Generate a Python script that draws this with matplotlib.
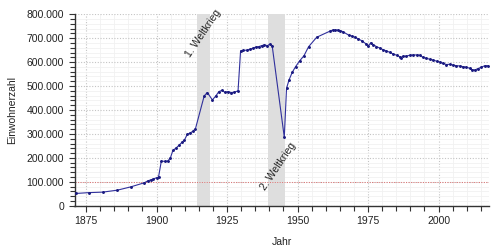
import matplotlib
matplotlib.use("Agg")
import matplotlib.pyplot as plt
from matplotlib.ticker import MultipleLocator, FuncFormatter

plt.rcParams['font.family'] = ['Liberation Sans', 'DejaVu Sans']

years = [1871.6, 1876.0, 1880.9, 1886.1, 1890.8, 1895.7, 1896.9, 1897.9, 1898.9, 1900.0,
         1900.7, 1901.7, 1902.9, 1904.0, 1904.9, 1905.8, 1907.0, 1907.9, 1909.0, 1909.9,
         1910.9, 1912.0, 1912.9, 1913.8, 1916.9, 1918.0, 1919.8, 1921.1, 1922.1, 1923.2,
         1924.2, 1925.4, 1926.4, 1927.5, 1928.9, 1929.8, 1930.8, 1931.9, 1933.2, 1934.1,
         1935.2, 1936.3, 1937.3, 1938.2, 1939.3, 1940.2, 1941.0, 1945.3, 1946.1, 1947.0,
         1948.1, 1949.3, 1950.8, 1952.3, 1953.9, 1956.8, 1961.6, 1962.5, 1963.3, 1964.2,
         1965.1, 1966.1, 1968.1, 1969.3, 1970.5, 1971.6, 1972.8, 1974.2, 1975.1, 1976.0,
         1976.8, 1978.0, 1979.1, 1980.3, 1981.5, 1982.7, 1983.9, 1985.1, 1986.2, 1986.8,
         1987.4, 1988.6, 1989.8, 1991.0, 1992.2, 1993.3, 1994.5, 1995.7, 1996.9, 1998.0,
         1999.3, 2000.4, 2001.6, 2002.8, 2004.0, 2005.1, 2006.3, 2007.5, 2008.7, 2009.9,
         2011.1, 2011.7, 2012.8, 2014.0, 2015.2, 2016.4, 2017.6]
population = [51500, 54800, 56900, 65100, 78700, 96100, 104000, 108000, 112000, 117000,
              120000, 187000, 185000, 187000, 200000, 231000, 242000, 252000, 265000, 275000,
              298000, 305000, 311000, 322000, 459000, 473000, 442000, 460000, 477000, 482000,
              474000, 477000, 473000, 474000, 480000, 647000, 649000, 650000, 654000, 658000,
              663000, 665000, 669000, 672000, 669000, 675000, 669000, 286000, 491000, 526000,
              557000, 581000, 606000, 627000, 664000, 704000, 730000, 734000, 734000, 734000,
              732000, 727000, 713000, 709000, 703000, 697000, 689000, 677000, 668000, 681000,
              673000, 665000, 659000, 652000, 647000, 641000, 634000, 629000, 623000, 619000,
              625000, 625000, 629000, 630000, 630000, 629000, 620000, 616000, 612000, 609000,
              604000, 600000, 595000, 590000, 591000, 588000, 585000, 584000, 581000, 579000,
              574000, 569000, 567000, 573000, 579000, 585000, 585000]

wars = [(1914.5, 1918.9, "1. Weltkrieg"), (1939.7, 1945.4, "2. Weltkrieg")]
war_label_pos = [(1916.7, 722000), (1943.0, 166000)]
threshold = 100000

fig = plt.figure(figsize=(5, 2.5), dpi=100)
ax = fig.add_axes([0.149, 0.177, 0.829, 0.766])

ax.set_xlim(1870.9, 2017.9)
ax.set_ylim(0, 800000)

for (x0, x1, _lbl) in wars:
    ax.axvspan(x0, x1, color='#dedede', lw=0, zorder=1)

ax.xaxis.set_major_locator(MultipleLocator(25))
ax.xaxis.set_minor_locator(MultipleLocator(5))
ax.yaxis.set_major_locator(MultipleLocator(100000))
ax.yaxis.set_minor_locator(MultipleLocator(20000))
ax.yaxis.set_major_formatter(FuncFormatter(lambda v, p: f"{int(v):,}".replace(",", ".")))

ax.grid(which='minor', color='#f1f1f1', lw=0.6, ls='-', zorder=0)
ax.grid(which='major', color='#c4c4c4', lw=0.8, ls=(0, (1, 1.5)), zorder=0)
ax.set_axisbelow(True)

ax.axhline(threshold, color='#e07070', lw=0.7, ls=(0, (1, 1.5)), zorder=2)

ax.plot(years, population, color='#30309c', lw=0.8, marker='o', ms=1.1,
        mfc='#1a1a80', mec='#1a1a80', zorder=3)

for (x0, x1, lbl), (tx, ty) in zip(wars, war_label_pos):
    ax.text(tx, ty, lbl, rotation=56, rotation_mode='anchor', ha='center', va='center',
            fontsize=7.5, color='#222222', zorder=4, clip_on=False)

for s in ['top', 'right']:
    ax.spines[s].set_visible(False)
for s in ['left', 'bottom']:
    ax.spines[s].set_color('#333333')
    ax.spines[s].set_linewidth(1.0)

ax.tick_params(which='both', direction='out', length=4, width=0.8, color='#333333',
               labelsize=7.5, labelcolor='#222222')
ax.tick_params(which='minor', length=3.5)

ax.set_xlabel("Jahr", fontsize=7.5, color='#222222', labelpad=8)
ax.set_ylabel("Einwohnerzahl", fontsize=7.5, color='#222222', labelpad=7)

fig.savefig("out.png", dpi=100)
